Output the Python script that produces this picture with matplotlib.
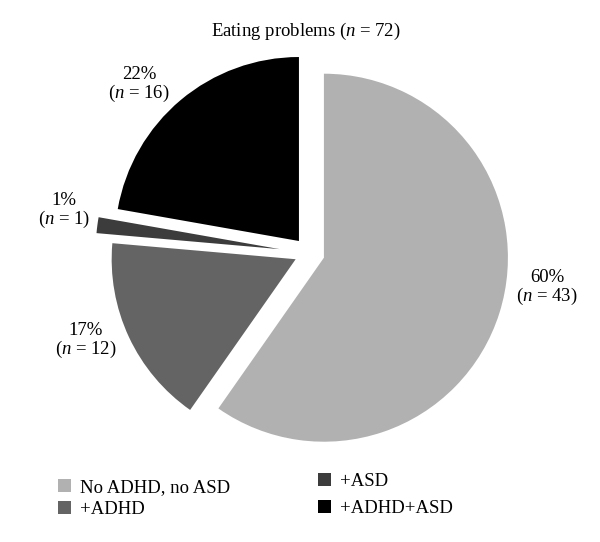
import matplotlib
matplotlib.use("Agg")
import matplotlib.pyplot as plt

plt.rcParams['font.family'] = ['Liberation Serif', 'DejaVu Serif']
plt.rcParams['mathtext.fontset'] = 'custom'
plt.rcParams['mathtext.rm'] = 'Liberation Serif'
plt.rcParams['mathtext.it'] = 'Liberation Serif:italic'

# ---- data ----
categories = ["No ADHD, no ASD", "+ADHD", "+ASD", "+ADHD+ASD"]
counts = [43, 12, 1, 16]
total = 72
colors = ["#b1b1b1", "#646464", "#3c3c3c", "#000000"]
explode_frac = [0.085, 0.08, 0.16, 0.085]
title = "Eating problems ($n$ = 72)"

W, H = 600, 542
fig = plt.figure(figsize=(W / 100, H / 100), dpi=100)
ax = fig.add_axes([0, 0, 1, 1])

cx, cy = 309, H - 253
R = 184
wedges, _ = ax.pie(counts, colors=colors,
                   explode=[e * R for e in explode_frac], startangle=90,
                   counterclock=False, center=(cx, cy), radius=R,
                   wedgeprops=dict(linewidth=0))
ax.set_xlim(0, W)
ax.set_ylim(0, H)
ax.set_aspect('equal')
ax.axis('off')

fs = 13.5
ax.text(306, H - 31, title, ha='center', va='center', fontsize=fs)

label_pos = [(547, H - 288), (86, H - 341), (64, H - 211), (139, H - 85)]
for c, (x, y) in zip(counts, label_pos):
    pct = round(100 * c / total)
    ax.text(x, y, f"{pct}%\n($n$ = {c})", ha='center', va='center',
            fontsize=fs, linespacing=1.05)


def col_legend(handles, labels, x, ytop, spacing):
    return fig.legend(handles, labels, loc='upper left',
                      bbox_to_anchor=(x / W, ytop / H),
                      frameon=False, fontsize=fs, borderpad=0,
                      handlelength=0.7, handleheight=0.7,
                      handletextpad=0.45, labelspacing=spacing,
                      borderaxespad=0)


col_legend([wedges[0], wedges[1]], [categories[0], categories[1]],
           58, H - 479, 0.25)
col_legend([wedges[2], wedges[3]], [categories[2], categories[3]],
           318, H - 473, 0.5)

fig.savefig("out.png", dpi=100)
